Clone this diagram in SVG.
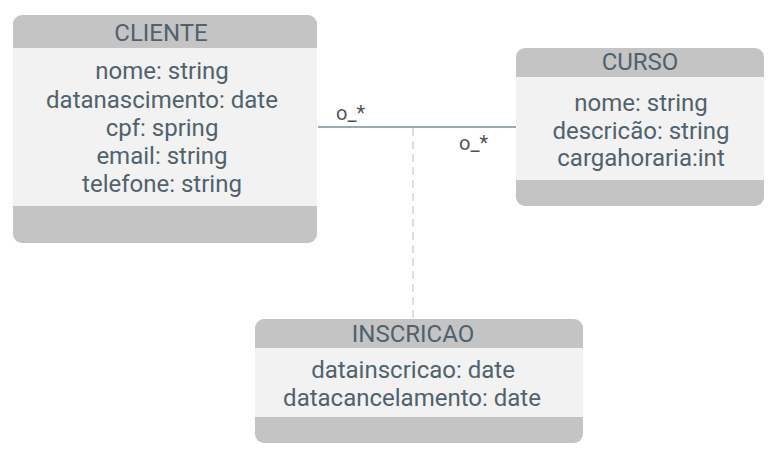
<svg xmlns="http://www.w3.org/2000/svg" width="783" height="452" viewBox="0 0 783 452">
<defs>
<style>
.hdr{fill:#c4c4c4}
.body{fill:#f2f2f2}
.t{font-family:Roboto,"Liberation Sans",sans-serif;fill:#50626e;text-anchor:middle}
.title{font-size:24px}
.attr{font-size:24px}
.lbl{font-family:Roboto,"Liberation Sans",sans-serif;font-size:20px;fill:#4f5559}
.assoc{stroke:#7d8c96;stroke-width:1.3;fill:none}
.dash{stroke:#c8c8c8;stroke-width:1.2;stroke-dasharray:8 5;fill:none}
</style>
</defs>
<rect width="783" height="452" fill="#ffffff"/>
<g id="connectors">
<line class="assoc" x1="318" y1="127" x2="516" y2="127"/>
<line class="dash" x1="413" y1="128" x2="413" y2="319"/>
<text class="lbl" x="336" y="120">o_*</text>
<text class="lbl" x="459" y="150">o_*</text>
</g>
<g id="cliente">
<rect class="hdr" x="13" y="15" width="304" height="228" rx="9"/>
<rect class="body" x="13" y="48" width="304" height="158"/>
<text class="t title" x="161" y="41">CLIENTE</text>
<text class="t attr" x="162" y="79">nome: string</text>
<text class="t attr" x="162" y="108">datanascimento: date</text>
<text class="t attr" x="162" y="136">cpf: spring</text>
<text class="t attr" x="162" y="164">email: string</text>
<text class="t attr" x="162" y="192">telefone: string</text>
</g>
<g id="curso">
<rect class="hdr" x="516" y="48" width="248" height="158" rx="9"/>
<rect class="body" x="516" y="77" width="248" height="103"/>
<text class="t title" x="640" y="70">CURSO</text>
<text class="t attr" x="641" y="111">nome: string</text>
<text class="t attr" x="641" y="139">descricão: string</text>
<text class="t attr" x="641" y="166">cargahoraria:int</text>
</g>
<g id="inscricao">
<rect class="hdr" x="255" y="319" width="328" height="124" rx="9"/>
<rect class="body" x="255" y="348" width="328" height="69"/>
<text class="t title" x="413" y="342">INSCRICAO</text>
<text class="t attr" x="413" y="378">datainscricao: date</text>
<text class="t attr" x="412" y="406">datacancelamento: date</text>
</g>
</svg>
